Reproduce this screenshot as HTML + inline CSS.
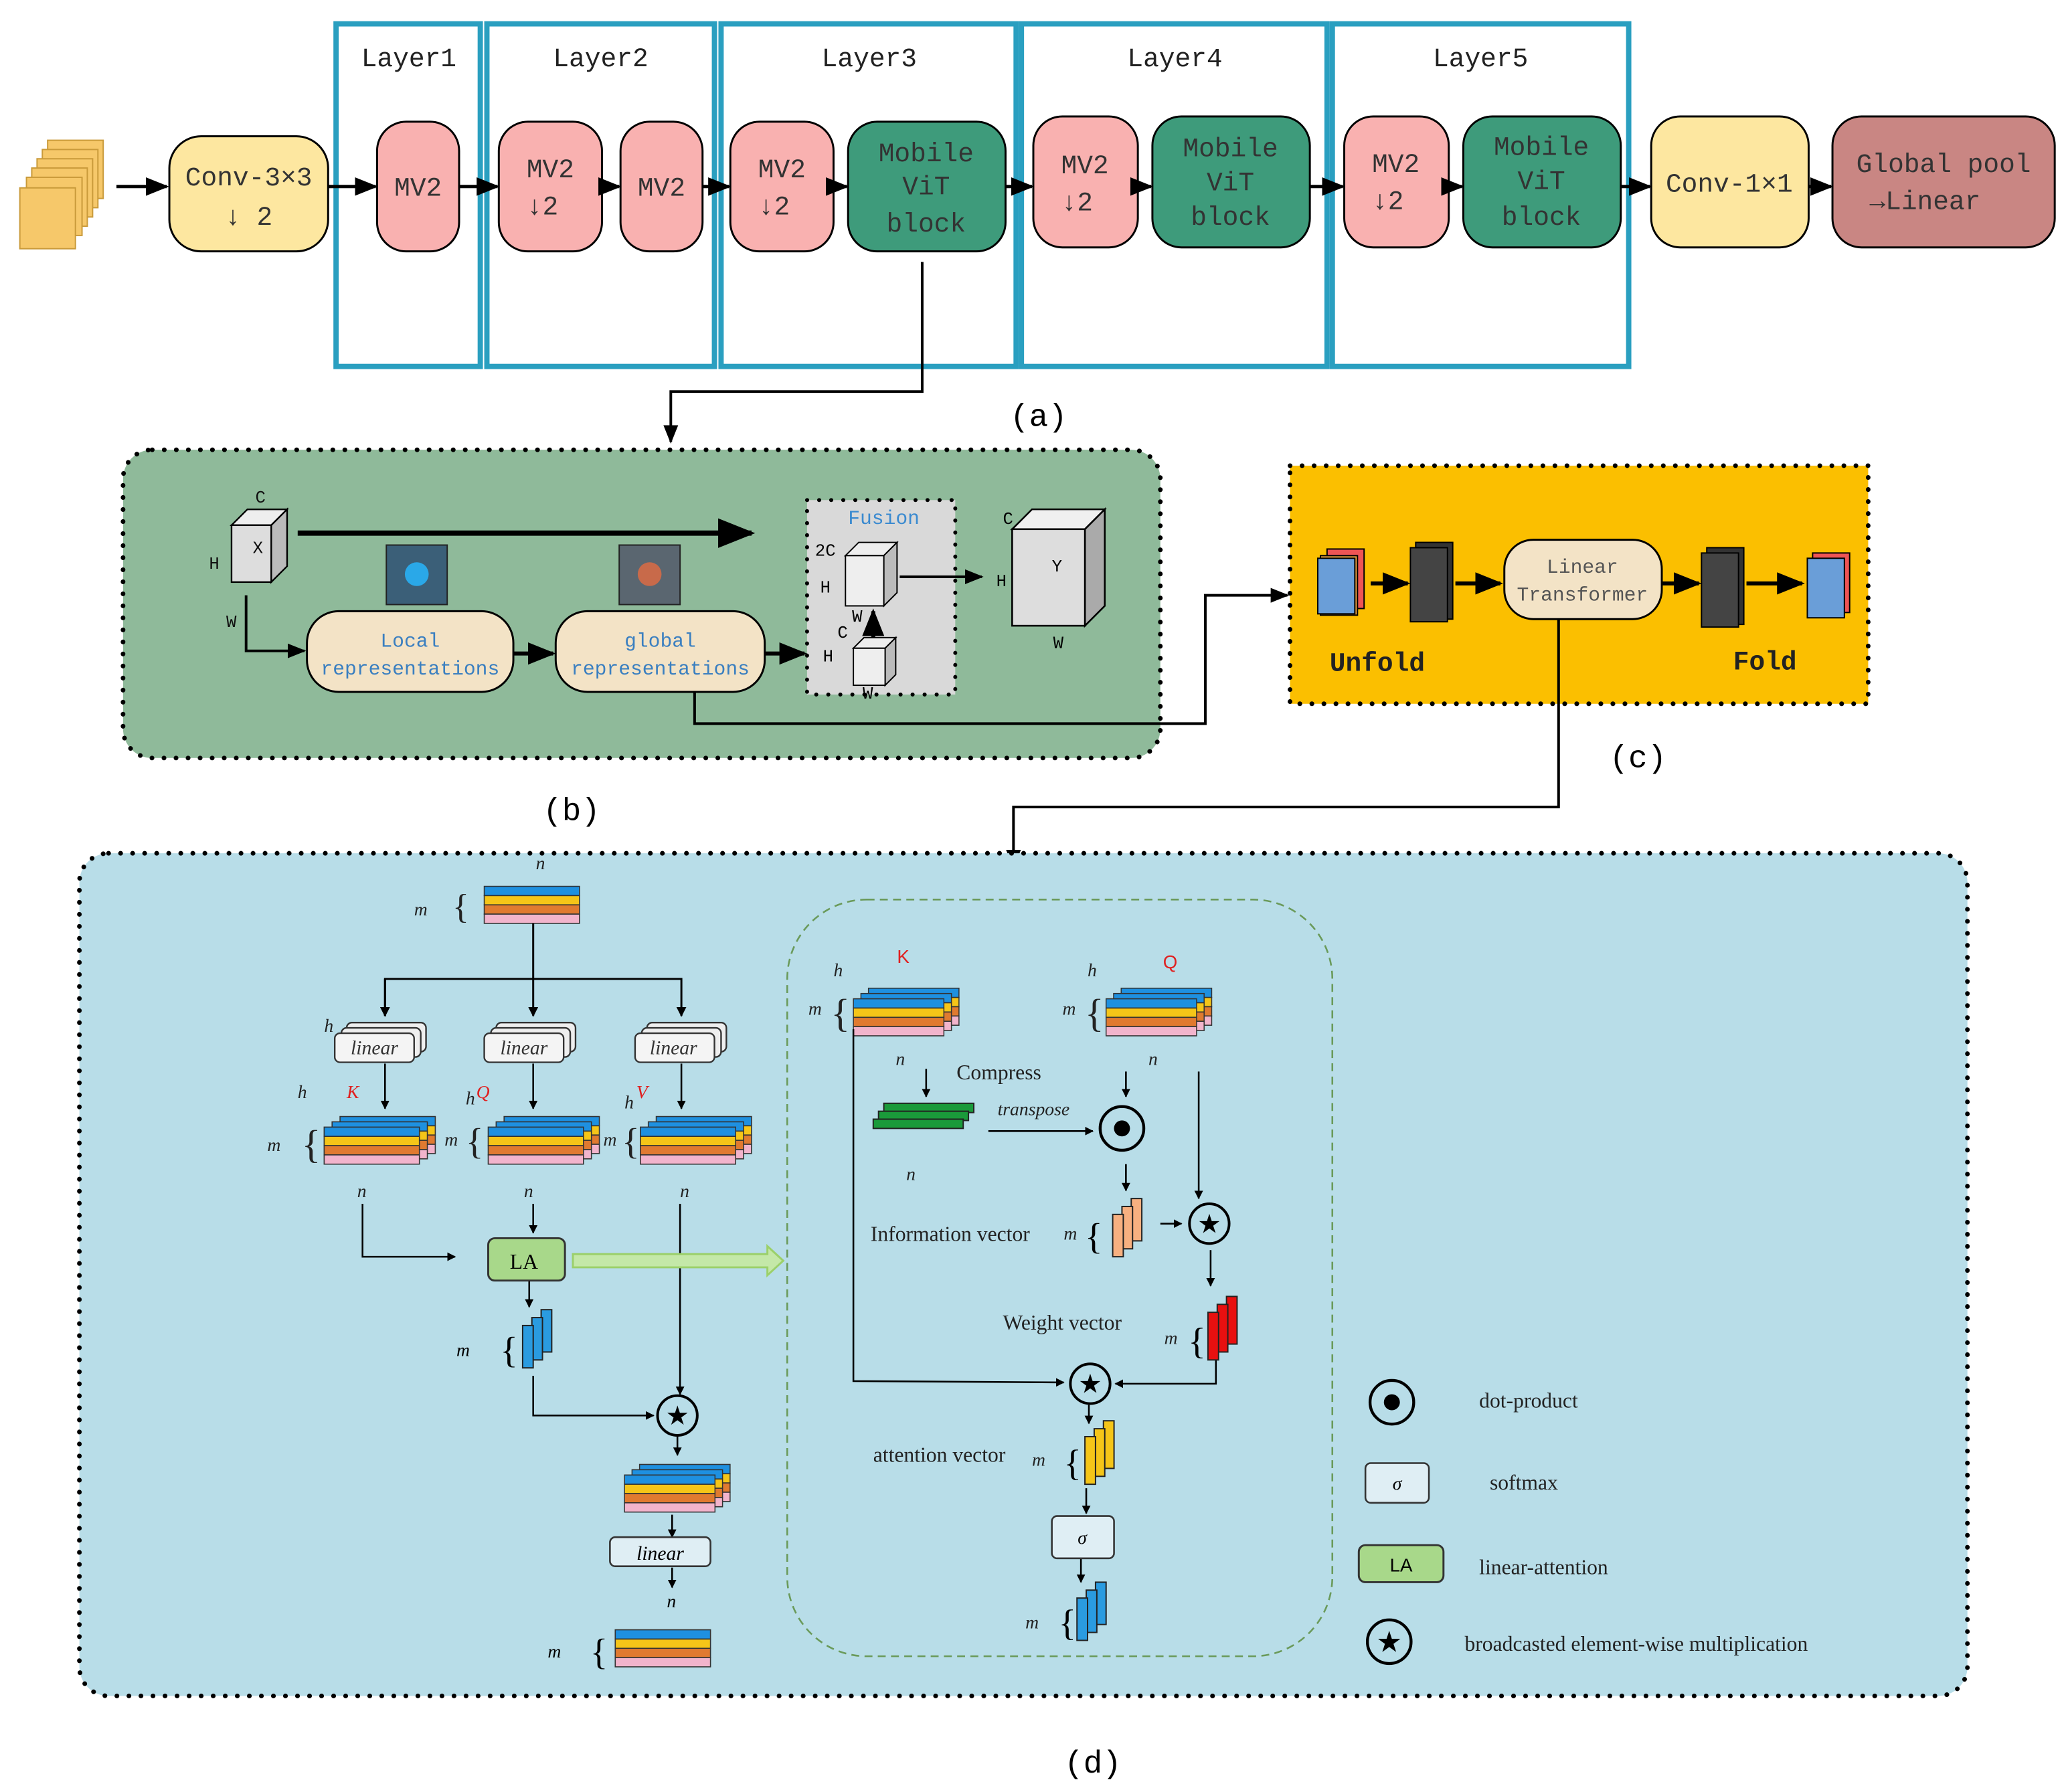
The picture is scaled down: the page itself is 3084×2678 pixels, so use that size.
<!DOCTYPE html>
<html><head><meta charset="utf-8"><style>html,body{margin:0;padding:0;background:#fff}svg{display:block}</style></head>
<body>
<svg width="3084" height="2678" viewBox="0 0 1560 1354.6" xmlns="http://www.w3.org/2000/svg">
<defs>
<marker id="ar" viewBox="0 0 10 10" refX="9" refY="5" markerWidth="5" markerHeight="5" orient="auto-start-reverse"><path d="M0,0L10,5L0,10z" fill="#000"/></marker>
<marker id="as" viewBox="0 0 10 10" refX="9" refY="5" markerWidth="7" markerHeight="7" orient="auto"><path d="M0,1L10,5L0,9z" fill="#000"/></marker>
<g id="bars">
<rect x="0" y="0" width="72" height="7" fill="#1e90e0" stroke="#333" stroke-width="0.8"/>
<rect x="0" y="7" width="72" height="7" fill="#f5c518" stroke="#333" stroke-width="0.8"/>
<rect x="0" y="14" width="72" height="7" fill="#e07a30" stroke="#333" stroke-width="0.8"/>
<rect x="0" y="21" width="72" height="7" fill="#f2b4cc" stroke="#333" stroke-width="0.8"/>
</g>
<g id="stk3">
<use href="#bars" transform="translate(12,-8)"/>
<use href="#bars" transform="translate(6,-4)"/>
<use href="#bars"/>
</g>
<g id="star"><circle r="15" fill="none" stroke="#000" stroke-width="2"/><text x="0" y="7" font-size="20" text-anchor="middle" font-family="DejaVu Sans">★</text></g>
<g id="dot"><circle r="15" fill="none" stroke="#000" stroke-width="2"/><circle r="5.5" fill="#000"/></g>
</defs>
<style>
.mono{font-family:"Liberation Mono",monospace}
.ser{font-family:"Liberation Serif",serif}
.it{font-family:"Liberation Serif",serif;font-style:italic}
</style>

<!-- (a) -->
<g fill="none" stroke="#2a9fc0" stroke-width="4">
<rect x="254" y="18" width="109" height="259"/>
<rect x="368" y="18" width="172" height="259"/>
<rect x="545" y="18" width="223" height="259"/>
<rect x="772" y="18" width="231" height="259"/>
<rect x="1007" y="18" width="224" height="259"/>
</g>
<g class="mono" font-size="20" text-anchor="middle" fill="#222">
<text x="309" y="50">Layer1</text><text x="454" y="50">Layer2</text><text x="657" y="50">Layer3</text><text x="888" y="50">Layer4</text><text x="1119" y="50">Layer5</text>
</g>
<!-- input stack -->
<g fill="#f6c86a" stroke="#c99a3a" stroke-width="1">
<rect x="36" y="106" width="42" height="44"/><rect x="32" y="113" width="42" height="44"/><rect x="28" y="120" width="42" height="44"/><rect x="24" y="127" width="42" height="44"/><rect x="20" y="134" width="42" height="44"/><rect x="15" y="142" width="42" height="46"/>
</g>
<g stroke="#000" stroke-width="1.5">
<rect x="128" y="103" width="120" height="87" rx="24" fill="#fde7a0"/>
<rect x="285" y="92" width="62" height="98" rx="22" fill="#f9b1b0"/>
<rect x="377" y="92" width="78" height="98" rx="22" fill="#f9b1b0"/>
<rect x="469" y="92" width="62" height="98" rx="22" fill="#f9b1b0"/>
<rect x="552" y="92" width="78" height="98" rx="22" fill="#f9b1b0"/>
<rect x="641" y="92" width="119" height="98" rx="22" fill="#3e9b7b"/>
<rect x="781" y="88" width="79" height="99" rx="22" fill="#f9b1b0"/>
<rect x="871" y="88" width="119" height="99" rx="22" fill="#3e9b7b"/>
<rect x="1016" y="88" width="79" height="99" rx="22" fill="#f9b1b0"/>
<rect x="1106" y="88" width="119" height="99" rx="22" fill="#3e9b7b"/>
<rect x="1248" y="88" width="119" height="99" rx="22" fill="#fde7a0"/>
<rect x="1385" y="88" width="168" height="99" rx="22" fill="#c98683"/>
</g>
<g class="mono" font-size="20" text-anchor="middle" fill="#333">
<text x="188" y="140">Conv-3×3</text><text x="188" y="170">↓ 2</text>
<text x="316" y="148">MV2</text>
<text x="416" y="134">MV2</text><text x="410" y="162">↓2</text>
<text x="500" y="148">MV2</text>
<text x="591" y="134">MV2</text><text x="585" y="162">↓2</text>
<text x="700" y="122">Mobile</text><text x="700" y="147">ViT</text><text x="700" y="175">block</text>
<text x="820" y="131">MV2</text><text x="814" y="159">↓2</text>
<text x="930" y="118">Mobile</text><text x="930" y="144">ViT</text><text x="930" y="170">block</text>
<text x="1055" y="130">MV2</text><text x="1049" y="158">↓2</text>
<text x="1165" y="117">Mobile</text><text x="1165" y="143">ViT</text><text x="1165" y="170">block</text>
<text x="1307" y="145">Conv-1×1</text>
<text x="1469" y="130">Global pool</text><text x="1455" y="158">→Linear</text>
</g>
<g stroke="#000" stroke-width="2.5" fill="none" marker-end="url(#as)">
<line x1="88" y1="141" x2="126" y2="141"/>
<line x1="248" y1="141" x2="284" y2="141"/>
<line x1="347" y1="141" x2="376" y2="141"/>
<line x1="455" y1="141" x2="468" y2="141"/>
<line x1="531" y1="141" x2="551" y2="141"/>
<line x1="630" y1="141" x2="640" y2="141"/>
<line x1="760" y1="141" x2="780" y2="141"/>
<line x1="860" y1="141" x2="870" y2="141"/>
<line x1="990" y1="141" x2="1015" y2="141"/>
<line x1="1095" y1="141" x2="1105" y2="141"/>
<line x1="1225" y1="141" x2="1247" y2="141"/>
<line x1="1367" y1="141" x2="1384" y2="141"/>
</g>
<polyline points="697,198 697,296 507,296 507,334" fill="none" stroke="#000" stroke-width="2" marker-end="url(#as)"/>
<text x="785" y="322" class="mono" font-size="24" text-anchor="middle">(a)</text>

<!-- (b) -->
<rect x="93" y="340" width="784" height="233" rx="22" fill="#8fba9a" stroke="#000" stroke-width="3.5" stroke-dasharray="0.1 9" stroke-linecap="round"/>
<g stroke="#000" stroke-width="1.2">
<polygon points="175,397 187,385 217,385 205,397" fill="#eee"/><polygon points="205,397 217,385 217,428 205,440" fill="#bbb"/><rect x="175" y="397" width="30" height="43" fill="#ddd"/>
</g>
<g class="mono" font-size="13" fill="#111"><text x="193" y="380">C</text><text x="158" y="430">H</text><text x="171" y="474">W</text><text x="191" y="418">X</text></g>
<line x1="225" y1="403" x2="568" y2="403" stroke="#000" stroke-width="4" marker-end="url(#as)"/>
<rect x="292" y="412" width="46" height="45" fill="#3b5f78" stroke="#222"/><circle cx="315" cy="434" r="9" fill="#2aa8e8"/>
<rect x="468" y="412" width="46" height="45" fill="#5a6670" stroke="#222"/><circle cx="491" cy="434" r="9" fill="#c86a4a"/>
<polyline points="186,450 186,492 230,492" fill="none" stroke="#000" stroke-width="2" marker-end="url(#as)"/>
<rect x="232" y="462" width="156" height="61" rx="24" fill="#f3e3c6" stroke="#000" stroke-width="1.5"/>
<rect x="420" y="462" width="158" height="61" rx="24" fill="#f3e3c6" stroke="#000" stroke-width="1.5"/>
<g class="mono" font-size="15" fill="#3a7fc0" text-anchor="middle"><text x="310" y="489">Local</text><text x="310" y="510">representations</text><text x="499" y="489">global</text><text x="499" y="510">representations</text></g>
<line x1="388" y1="494" x2="418" y2="494" stroke="#000" stroke-width="3" marker-end="url(#as)"/>
<line x1="578" y1="494" x2="608" y2="494" stroke="#000" stroke-width="3" marker-end="url(#as)"/>
<rect x="610" y="378" width="112" height="147" fill="#d9d9d9" stroke="#000" stroke-width="3" stroke-dasharray="0.1 9" stroke-linecap="round"/>
<text x="668" y="396" class="mono" font-size="15" fill="#3a8ad0" text-anchor="middle">Fusion</text>
<g stroke="#000" stroke-width="1"><polygon points="639,420 649,410 678,410 668,420" fill="#eee"/><polygon points="668,420 678,410 678,448 668,458" fill="#bbb"/><rect x="639" y="420" width="29" height="38" fill="#eee"/>
<polygon points="645,490 653,482 677,482 669,490" fill="#eee"/><polygon points="669,490 677,482 677,510 669,518" fill="#bbb"/><rect x="645" y="490" width="24" height="28" fill="#eee"/></g>
<g class="mono" font-size="13"><text x="616" y="420">2C</text><text x="620" y="448">H</text><text x="633" y="482">C</text><text x="622" y="500">H</text><text x="644" y="470">W</text><text x="652" y="528">W</text></g>
<line x1="660" y1="482" x2="660" y2="462" stroke="#000" stroke-width="3" marker-end="url(#as)"/>
<line x1="680" y1="436" x2="742" y2="436" stroke="#000" stroke-width="2" marker-end="url(#as)"/>
<g stroke="#000" stroke-width="1.3"><polygon points="765,400 780,385 835,385 820,400" fill="#f0f0f0"/><polygon points="820,400 835,385 835,458 820,473" fill="#aaa"/><rect x="765" y="400" width="55" height="73" fill="#ddd"/></g>
<g class="mono" font-size="13"><text x="758" y="396">C</text><text x="753" y="443">H</text><text x="795" y="432">Y</text><text x="796" y="490">W</text></g>
<polyline points="525,523 525,547 911,547 911,450 973,450" fill="none" stroke="#000" stroke-width="2" marker-end="url(#as)"/>
<text x="432" y="620" class="mono" font-size="24" text-anchor="middle">(b)</text>

<!-- (c) -->
<rect x="975" y="352" width="437" height="180" fill="#fbbf00" stroke="#000" stroke-width="3.5" stroke-dasharray="0.1 9" stroke-linecap="round"/>
<g stroke="#000" stroke-width="1">
<rect x="1003" y="415" width="28" height="45" fill="#e55"/><rect x="998" y="420" width="28" height="45" fill="#e8a040"/><rect x="996" y="422" width="28" height="42" fill="#6a9ed8"/>
<rect x="1070" y="410" width="28" height="58" fill="#333"/><rect x="1066" y="414" width="28" height="56" fill="#444"/>
<rect x="1290" y="414" width="28" height="58" fill="#333"/><rect x="1286" y="418" width="28" height="56" fill="#444"/>
<rect x="1370" y="418" width="28" height="45" fill="#e55"/><rect x="1366" y="422" width="28" height="45" fill="#6a9ed8"/>
</g>
<g stroke="#000" stroke-width="3" marker-end="url(#as)"><line x1="1036" y1="441" x2="1064" y2="441"/><line x1="1100" y1="441" x2="1134" y2="441"/><line x1="1256" y1="441" x2="1284" y2="441"/><line x1="1320" y1="441" x2="1362" y2="441"/></g>
<rect x="1137" y="408" width="119" height="60" rx="22" fill="#f3e3c6" stroke="#000" stroke-width="1.5"/>
<g class="mono" font-size="15" fill="#555" text-anchor="middle"><text x="1196" y="433">Linear</text><text x="1196" y="454">Transformer</text></g>
<g class="mono" font-size="20" font-weight="bold" fill="#222"><text x="1005" y="507">Unfold</text><text x="1310" y="506">Fold</text></g>
<polyline points="1178,468 1178,610 766,610 766,655" fill="none" stroke="#000" stroke-width="2" marker-end="url(#as)"/>
<text x="1238" y="580" class="mono" font-size="24" text-anchor="middle">(c)</text>

<!-- (d) -->
<rect x="60" y="645" width="1427" height="637" rx="22" fill="#b8dde8" stroke="#000" stroke-width="3.5" stroke-dasharray="0.1 9" stroke-linecap="round"/>
<rect x="595" y="680" width="412" height="572" rx="60" fill="none" stroke="#6a9a5a" stroke-width="1.3" stroke-dasharray="6 4"/>
<g class="it" font-size="14" fill="#222">
<!-- top input -->
<use href="#bars" transform="translate(366,670)"/>
<text x="405" y="657">n</text><text x="313" y="692">m</text><text x="342" y="694" font-size="26" font-style="normal">{</text>
</g>
<g fill="none" stroke="#000" stroke-width="1.5">
<line x1="403" y1="698" x2="403" y2="768" marker-end="url(#ar)"/>
<polyline points="291,768 291,740 515,740 515,768" marker-end="url(#ar)"/>
<line x1="291" y1="740" x2="291" y2="768" marker-end="url(#ar)"/>
</g>
<!-- linear boxes -->
<g stroke="#333" stroke-width="1.2" fill="#eee">
<rect x="262" y="773" width="60" height="22" rx="4"/><rect x="258" y="777" width="60" height="22" rx="4"/><rect x="253" y="781" width="60" height="22" rx="4" fill="#f4f4f4"/>
<rect x="375" y="773" width="60" height="22" rx="4"/><rect x="371" y="777" width="60" height="22" rx="4"/><rect x="366" y="781" width="60" height="22" rx="4" fill="#f4f4f4"/>
<rect x="489" y="773" width="60" height="22" rx="4"/><rect x="485" y="777" width="60" height="22" rx="4"/><rect x="480" y="781" width="60" height="22" rx="4" fill="#f4f4f4"/>
</g>
<g class="it" font-size="15" fill="#333" text-anchor="middle"><text x="283" y="797">linear</text><text x="396" y="797">linear</text><text x="509" y="797">linear</text></g>
<g stroke="#000" stroke-width="1.3" marker-end="url(#ar)"><line x1="291" y1="804" x2="291" y2="838"/><line x1="403" y1="804" x2="403" y2="838"/><line x1="515" y1="804" x2="515" y2="838"/></g>
<use href="#stk3" transform="translate(245,852)"/>
<use href="#stk3" transform="translate(369,852)"/>
<use href="#stk3" transform="translate(484,852)"/>
<g class="it" font-size="14" fill="#222">
<text x="245" y="780">h</text><text x="225" y="830">h</text><text x="262" y="830" fill="#e02020">K</text><text x="202" y="870">m</text><text x="228" y="875" font-size="30" font-style="normal">{</text><text x="270" y="905">n</text>
<text x="352" y="835">h</text><text x="360" y="830" fill="#e02020">Q</text><text x="336" y="866">m</text><text x="352" y="872" font-size="28" font-style="normal">{</text><text x="396" y="905">n</text>
<text x="472" y="838">h</text><text x="481" y="830" fill="#e02020">V</text><text x="456" y="866">m</text><text x="470" y="872" font-size="28" font-style="normal">{</text><text x="514" y="905">n</text>
</g>
<g fill="none" stroke="#000" stroke-width="1.3">
<polyline points="274,910 274,950 344,950" marker-end="url(#ar)"/>
<line x1="403" y1="910" x2="403" y2="932" marker-end="url(#ar)"/>
<line x1="514" y1="910" x2="514" y2="1054" marker-end="url(#ar)"/>
<line x1="400" y1="968" x2="400" y2="988" marker-end="url(#ar)"/>
<polyline points="403,1040 403,1070 494,1070" marker-end="url(#ar)"/>
<line x1="512" y1="1084" x2="512" y2="1100" marker-end="url(#ar)"/>
<line x1="508" y1="1145" x2="508" y2="1162" marker-end="url(#ar)"/>
<line x1="508" y1="1185" x2="508" y2="1200" marker-end="url(#ar)"/>
</g>
<rect x="369" y="936" width="58" height="32" rx="5" fill="#a8d88a" stroke="#333" stroke-width="1.5"/>
<text x="396" y="959" class="ser" font-size="16" text-anchor="middle">LA</text>
<path d="M433,948 L580,948 L580,942 L592,953 L580,964 L580,958 L433,958z" fill="#c4e8a8" stroke="#9bd06a" stroke-width="1.5"/>
<g stroke="#222" stroke-width="1" fill="#2a9be0"><rect x="409" y="990" width="8" height="32"/><rect x="402" y="996" width="8" height="32"/><rect x="395" y="1002" width="8" height="32"/></g>
<text x="345" y="1025" class="it" font-size="14">m</text><text x="378" y="1030" class="ser" font-size="28">{</text>
<use href="#star" transform="translate(512,1070)"/>
<use href="#stk3" transform="translate(472,1115) scale(0.95,1)"/>
<rect x="461" y="1162" width="76" height="22" rx="4" fill="#dfeef4" stroke="#333" stroke-width="1.3"/>
<text x="499" y="1179" class="it" font-size="15" text-anchor="middle">linear</text>
<text x="504" y="1215" class="it" font-size="14">n</text>
<use href="#bars" transform="translate(465,1232)"/>
<text x="414" y="1253" class="it" font-size="14">m</text><text x="446" y="1258" class="ser" font-size="28">{</text>

<!-- inner dashed panel -->
<use href="#stk3" transform="translate(645,755) scale(0.95,1)"/>
<use href="#stk3" transform="translate(836,755) scale(0.95,1)"/>
<g class="it" font-size="14" fill="#222">
<text x="630" y="738">h</text><text x="678" y="728" fill="#e02020" font-style="normal" font-family="Liberation Sans">K</text><text x="611" y="767">m</text><text x="628" y="776" class="ser" font-size="30" font-style="normal">{</text><text x="677" y="805">n</text>
<text x="822" y="738">h</text><text x="879" y="732" fill="#e02020" font-style="normal" font-family="Liberation Sans">Q</text><text x="803" y="767">m</text><text x="820" y="776" class="ser" font-size="30" font-style="normal">{</text><text x="868" y="805">n</text>
<text x="685" y="892">n</text>
<text x="754" y="843">transpose</text>
<text x="804" y="937">m</text><text x="880" y="1016">m</text><text x="780" y="1108">m</text><text x="775" y="1231">m</text>
</g>
<g class="ser" font-size="16" fill="#222">
<text x="723" y="816">Compress</text>
<text x="658" y="938">Information vector</text>
<text x="758" y="1005">Weight vector</text>
<text x="660" y="1105">attention vector</text>
</g>
<g stroke="#222" stroke-width="1" fill="#1a9a3a"><rect x="668" y="834" width="68" height="7"/><rect x="664" y="840" width="68" height="7"/><rect x="660" y="846" width="68" height="7"/></g>
<g fill="none" stroke="#000" stroke-width="1.3">
<line x1="700" y1="808" x2="700" y2="829" marker-end="url(#ar)"/>
<line x1="747" y1="855" x2="826" y2="855" marker-end="url(#ar)"/>
<line x1="851" y1="810" x2="851" y2="829" marker-end="url(#ar)"/>
<line x1="851" y1="880" x2="851" y2="900" marker-end="url(#ar)"/>
<line x1="906" y1="810" x2="906" y2="906" marker-end="url(#ar)"/>
<line x1="877" y1="925" x2="893" y2="925" marker-end="url(#ar)"/>
<line x1="915" y1="945" x2="915" y2="972" marker-end="url(#ar)"/>
<polyline points="645,778 645,1044 804,1045" marker-end="url(#ar)"/>
<polyline points="919,1025 919,1046 843,1046" marker-end="url(#ar)"/>
<line x1="823" y1="1062" x2="823" y2="1076" marker-end="url(#ar)"/>
<line x1="821" y1="1125" x2="821" y2="1144" marker-end="url(#ar)"/>
<line x1="817" y1="1178" x2="817" y2="1196" marker-end="url(#ar)"/>
</g>
<use href="#dot" transform="translate(848,853) scale(1.1)"/>
<use href="#star" transform="translate(914,925)"/>
<use href="#star" transform="translate(824,1046)"/>
<g stroke="#222" stroke-width="1" fill="#f7b080"><rect x="855" y="906" width="8" height="32"/><rect x="848" y="912" width="8" height="32"/><rect x="841" y="918" width="8" height="32"/></g>
<text x="820" y="944" class="ser" font-size="28">{</text>
<g stroke="#222" stroke-width="1" fill="#e81010"><rect x="927" y="980" width="8" height="36"/><rect x="920" y="986" width="8" height="36"/><rect x="913" y="992" width="8" height="36"/></g>
<text x="898" y="1023" class="ser" font-size="28">{</text>
<g stroke="#222" stroke-width="1" fill="#f5c518"><rect x="834" y="1074" width="8" height="36"/><rect x="827" y="1080" width="8" height="36"/><rect x="820" y="1086" width="8" height="36"/></g>
<text x="804" y="1115" class="ser" font-size="28">{</text>
<rect x="795" y="1146" width="47" height="32" rx="4" fill="#dfeef4" stroke="#333" stroke-width="1.3"/>
<text x="818" y="1167" class="it" font-size="14" text-anchor="middle">σ</text>
<g stroke="#222" stroke-width="1" fill="#2a9be0"><rect x="828" y="1196" width="8" height="32"/><rect x="821" y="1202" width="8" height="32"/><rect x="814" y="1208" width="8" height="32"/></g>
<text x="800" y="1236" class="ser" font-size="28">{</text>

<!-- legend -->
<use href="#dot" transform="translate(1052,1060) scale(1.1)"/>
<rect x="1032" y="1106" width="48" height="30" rx="4" fill="#dfeef4" stroke="#333" stroke-width="1.3"/>
<text x="1056" y="1126" class="it" font-size="14" text-anchor="middle">σ</text>
<rect x="1027" y="1168" width="64" height="28" rx="5" fill="#a8d88a" stroke="#333" stroke-width="1.5"/>
<text x="1059" y="1188" font-family="Liberation Sans" font-size="14" text-anchor="middle">LA</text>
<use href="#star" transform="translate(1050,1241) scale(1.1)"/>
<g class="ser" font-size="16" fill="#222">
<text x="1118" y="1064">dot-product</text>
<text x="1126" y="1126">softmax</text>
<text x="1118" y="1190">linear-attention</text>
<text x="1107" y="1248">broadcasted element-wise multiplication</text>
</g>
<text x="826" y="1340" class="mono" font-size="24" text-anchor="middle">(d)</text>
</svg>
</body></html>
